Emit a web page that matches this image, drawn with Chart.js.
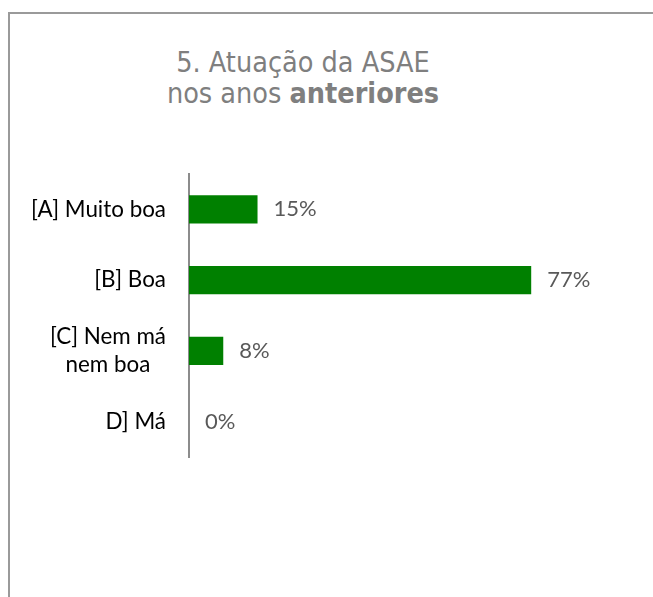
<!DOCTYPE html>
<html>
<head>
<meta charset="utf-8">
<script src="https://cdn.jsdelivr.net/npm/chart.js@4"></script>
<style>
  html, body { margin: 0; padding: 0; background: #fff; }
  #wrap { position: relative; width: 653px; height: 597px; overflow: hidden; }
  #frame {
    position: absolute; left: 8px; top: 12px; width: 700px; height: 700px;
    border-left: 2px solid #9a9a9a; border-top: 2px solid #9a9a9a;
  }
  #title {
    position: absolute; left: 103px; top: 47px; width: 400px;
    text-align: center; color: #7f7f7f;
    font-family: "DejaVu Sans Condensed", "DejaVu Sans", sans-serif;
    font-stretch: condensed;
    font-size: 28.5px; line-height: 31px;
  }
  #title b { font-weight: bold; }
  canvas { position: absolute; left: 0; top: 0; }
</style>
</head>
<body>
<div id="wrap">
  <div id="frame"></div>
  <div id="title">5. Atuação da ASAE<br>nos anos <b>anteriores</b></div>
  <canvas id="chart" width="653" height="597"></canvas>
</div>
<script>
  // categories (multi-line labels as arrays)
  const categories = [['[A] Muito boa'], ['[B] Boa'], ['[C] Nem má', 'nem boa'], ['D] Má']];
  // share of answers, %
  const values = [15.4, 76.9, 7.7, 0];
  const valueLabels = ['15%', '77%', '8%', '0%'];

  const catFont = '22.4px Lato, "Open Sans", sans-serif';
  const valFont = '22px Lato, "Open Sans", sans-serif';

  // category labels: block right-aligned next to the axis, lines centered inside the block
  const categoryLabels = {
    id: 'categoryLabels',
    afterDraw(chart) {
      const ctx = chart.ctx;
      const yScale = chart.scales.y;
      const right = chart.chartArea.left - 23;
      const lineHeight = 28;
      ctx.save();
      ctx.font = catFont;
      ctx.fillStyle = '#000000';
      ctx.textAlign = 'center';
      ctx.textBaseline = 'middle';
      categories.forEach((lines, i) => {
        const yc = yScale.getPixelForValue(i);
        const w = Math.max(...lines.map(l => ctx.measureText(l).width));
        lines.forEach((line, j) => {
          ctx.fillText(line, right - w / 2, yc + (j - (lines.length - 1) / 2) * lineHeight);
        });
      });
      ctx.restore();
    }
  };

  // value labels at the end of every bar
  const valueLabelPlugin = {
    id: 'valueLabels',
    afterDatasetsDraw(chart) {
      const ctx = chart.ctx;
      const meta = chart.getDatasetMeta(0);
      ctx.save();
      ctx.font = valFont;
      ctx.fillStyle = '#595959';
      ctx.textAlign = 'left';
      ctx.textBaseline = 'middle';
      meta.data.forEach((bar, i) => {
        ctx.fillText(valueLabels[i], bar.x + 16, bar.y);
      });
      ctx.restore();
    }
  };

  new Chart(document.getElementById('chart'), {
    type: 'bar',
    data: {
      labels: categories.map(c => c.join(' ')),
      datasets: [{
        data: values,
        backgroundColor: '#008000',
        borderWidth: 0,
        barPercentage: 0.4,
        categoryPercentage: 1
      }]
    },
    options: {
      indexAxis: 'y',
      responsive: false,
      animation: false,
      layout: { padding: { left: 181, top: 174, right: 19, bottom: 140 } },
      plugins: {
        legend: { display: false },
        tooltip: { enabled: false },
        title: { display: false }
      },
      scales: {
        x: { display: false, min: 0, max: 100 },
        y: {
          grid: { display: false },
          border: { display: true, color: '#8c8c8c', width: 2 },
          ticks: { display: false }
        }
      }
    },
    plugins: [categoryLabels, valueLabelPlugin]
  });
</script>
</body>
</html>
